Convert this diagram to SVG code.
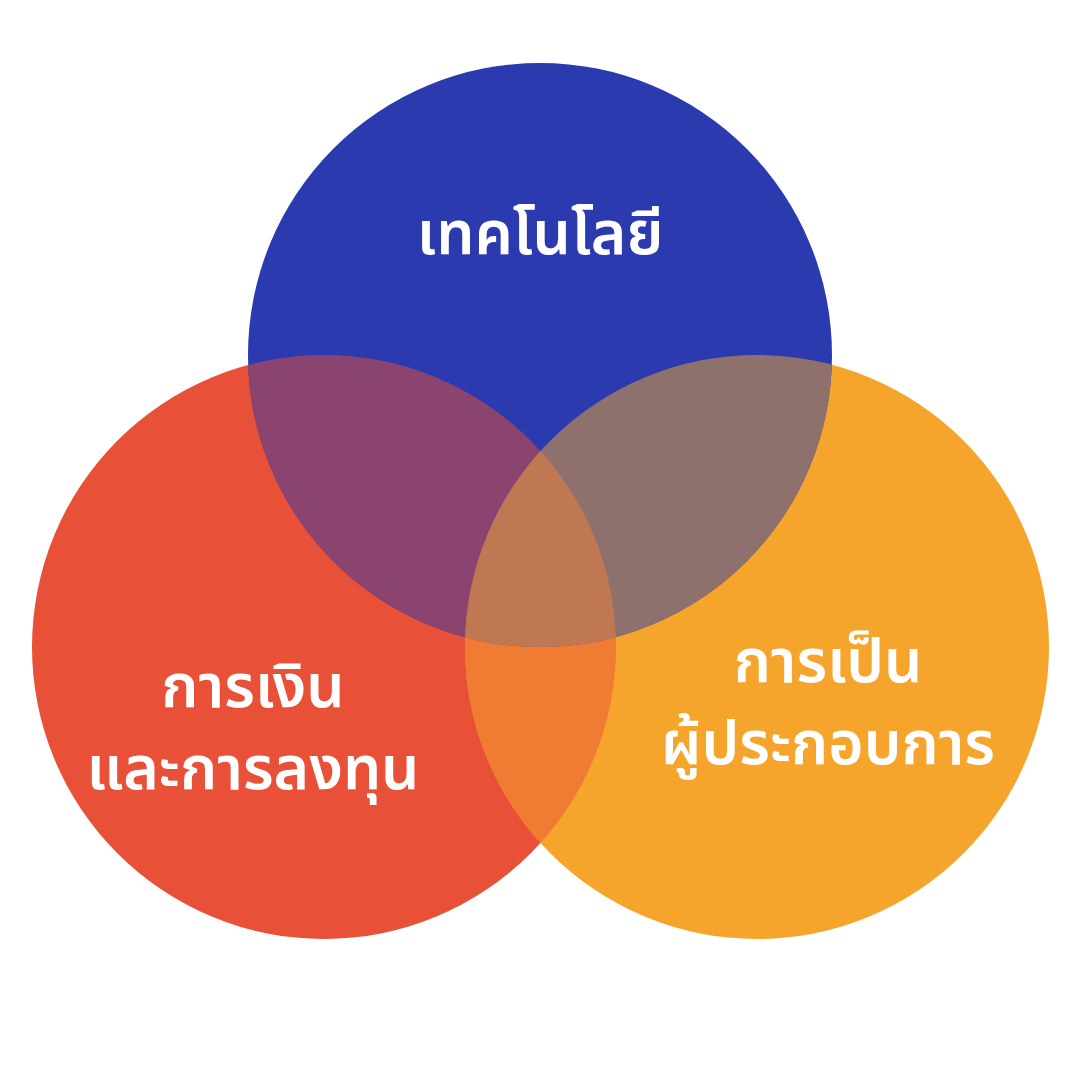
<svg xmlns="http://www.w3.org/2000/svg" width="1080" height="1080" viewBox="0 0 1080 1080">
<style>
.lbl{font-family:"Noto Sans Thai","Noto Sans Thai UI","Noto Sans","DejaVu Sans",sans-serif;font-size:60.5px;font-weight:600;fill:#FFFFFF;text-anchor:middle}
</style>
<defs>
<clipPath id="cR"><circle cx="324" cy="647" r="292"/></clipPath>
<clipPath id="cO"><circle cx="757" cy="647" r="292"/></clipPath>
</defs>
<rect width="1080" height="1080" fill="#FFFFFF"/>
<g id="circle-finance"><circle cx="324" cy="647" r="292" fill="#E85038"/></g>
<g id="circle-entrepreneur"><circle cx="757" cy="647" r="292" fill="#F5A52C"/></g>
<g id="circle-technology"><circle cx="540" cy="355" r="292" fill="#2B3AAE"/></g>
<g id="overlaps">
<circle cx="757" cy="647" r="292" fill="#EF7C32" clip-path="url(#cR)"/>
<circle cx="540" cy="355" r="292" fill="#8B4470" clip-path="url(#cR)"/>
<circle cx="540" cy="355" r="292" fill="#8E716C" clip-path="url(#cO)"/>
<g clip-path="url(#cR)"><circle cx="540" cy="355" r="292" fill="#C07852" clip-path="url(#cO)"/></g>
</g>
<g id="labels">
<text class="lbl" x="540" y="254">เทคโนโลยี</text>
<text class="lbl" x="253" y="707">การเงิน</text>
<text class="lbl" x="253" y="789">และการลงทุน</text>
<text class="lbl" x="828" y="682">การเป็น</text>
<text class="lbl" x="828" y="764">ผู้ประกอบการ</text>
</g>
</svg>
